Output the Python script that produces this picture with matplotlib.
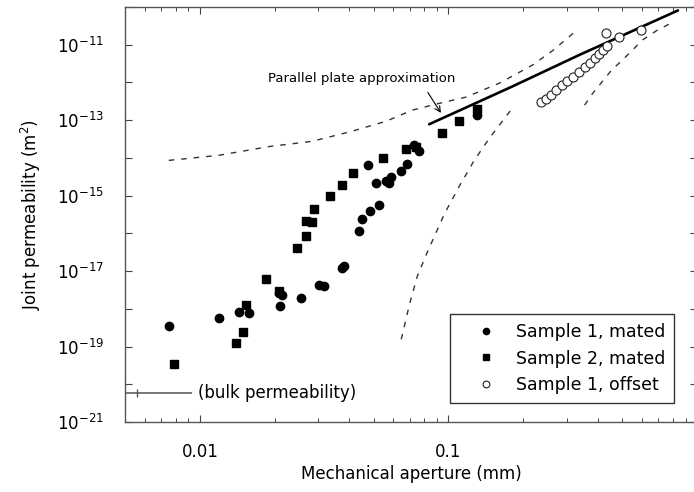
"""Joint permeability vs mechanical aperture, log-log scatter with model curves."""

import math

import matplotlib

matplotlib.use("Agg")
import matplotlib.pyplot as plt
from matplotlib.ticker import FixedLocator, FuncFormatter, NullLocator

# Sample 1, mated (filled circles)
s1_aperture = [0.0075, 0.0119, 0.0144, 0.0158, 0.021, 0.0208, 0.0214, 0.0255,
               0.0316, 0.0302, 0.0381, 0.0374, 0.0438, 0.045, 0.0485, 0.0527,
               0.0513, 0.0562, 0.0578, 0.0589, 0.0646, 0.0684, 0.0476, 0.0764,
               0.073, 0.13]
s1_perm = [3.4e-19, 5.6e-19, 8.1e-19, 7.6e-19, 1.17e-18, 2.6e-18, 2.3e-18, 1.9e-18,
           4.0e-18, 4.3e-18, 1.35e-17, 1.2e-17, 1.17e-16, 2.4e-16, 4.0e-16, 5.8e-16,
           2.2e-15, 2.5e-15, 2.1e-15, 3.2e-15, 4.4e-15, 7.1e-15, 6.3e-15, 1.5e-14,
           2.15e-14, 1.35e-13]

# Sample 2, mated (filled squares)
s2_aperture = [0.0079, 0.014, 0.0149, 0.0153, 0.01845, 0.0208, 0.0246, 0.0267,
               0.0267, 0.0283, 0.0288, 0.0334, 0.0374, 0.0414, 0.0547, 0.0677,
               0.0743, 0.0946, 0.11, 0.13]
s2_perm = [3.5e-20, 1.28e-19, 2.4e-19, 1.24e-18, 6.1e-18, 2.9e-18, 4.1e-17, 8.6e-17,
           2.15e-16, 2.0e-16, 4.5e-16, 1.0e-15, 1.96e-15, 3.9e-15, 9.7e-15, 1.7e-14,
           1.9e-14, 4.5e-14, 9.4e-14, 1.96e-13]

# Sample 1, offset (open circles)
s1o_aperture = [0.235, 0.246, 0.258, 0.272, 0.286, 0.299, 0.316, 0.334, 0.353,
                0.37, 0.388, 0.403, 0.418, 0.434, 0.43, 0.484, 0.594]
s1o_perm = [3.0e-13, 3.6e-13, 4.6e-13, 6.3e-13, 8.6e-13, 1.1e-12, 1.4e-12, 1.9e-12,
            2.6e-12, 3.3e-12, 4.5e-12, 5.8e-12, 7.4e-12, 9.4e-12, 2.1e-11, 1.6e-11,
            2.5e-11]

# parallel plate approximation (solid line)
pp_aperture = [0.0837, 0.179, 0.337, 0.838]
pp_perm = [7.8e-14, 7.6e-13, 5.4e-12, 8.1e-11]

# dashed model curves
c1_aperture = [0.0075, 0.0119, 0.019, 0.0283, 0.041, 0.0562, 0.0716, 0.092,
               0.118, 0.161, 0.218, 0.262, 0.328]
c1_perm = [8.6e-15, 1.17e-14, 2.0e-14, 2.75e-14, 5.1e-14, 9.4e-14, 1.85e-13,
           2.8e-13, 4.1e-13, 9.7e-13, 2.9e-12, 6.9e-12, 2.4e-11]
c2_aperture = [0.0646, 0.0697, 0.075, 0.0823, 0.0964, 0.111, 0.127, 0.146, 0.181]
c2_perm = [1.55e-19, 1.3e-18, 7.4e-18, 3.2e-17, 3.3e-16, 1.85e-15, 8.6e-15,
           3.3e-14, 2.1e-13]
c3_aperture = [0.353, 0.381, 0.418, 0.454, 0.503, 0.552, 0.606, 0.69, 0.778]
c3_perm = [2.5e-13, 5.2e-13, 1.1e-12, 2.15e-12, 4.0e-12, 7.4e-12, 1.36e-11,
           2.4e-11, 3.6e-11]

bulk_aperture = [0.005, 0.0092]
bulk_perm = [5.9e-21, 5.9e-21]

x_labels = {0.01: "0.01", 0.1: "0.1"}

plt.rcParams["font.family"] = "DejaVu Sans"

fig = plt.figure(figsize=(6.94, 4.92), dpi=100)
ax = fig.add_axes([125 / 694, 70 / 492, 572 / 694, 415 / 492])
ax.set_xscale("log")
ax.set_yscale("log")
ax.set_xlim(0.005, 1.0)
ax.set_ylim(1e-21, 1e-10)

dash = (0, (4, 5))
for xs, ys in [(c1_aperture, c1_perm), (c2_aperture, c2_perm), (c3_aperture, c3_perm)]:
    ax.plot(xs, ys, linestyle=dash, color="#333333", linewidth=1.0)

ax.plot(pp_aperture, pp_perm, color="black", linewidth=1.9, solid_capstyle="round")

ax.plot(s1_aperture, s1_perm, "o", color="black", markersize=6, label="Sample 1, mated")
ax.plot(s2_aperture, s2_perm, "s", color="black", markersize=5.5, label="Sample 2, mated")
ax.plot(s1o_aperture, s1o_perm, "o", markerfacecolor="white", markeredgecolor="#222222",
        markeredgewidth=0.8, markersize=6.5, label="Sample 1, offset")

# bulk permeability marker
ax.plot(bulk_aperture, bulk_perm, color="#777777", linewidth=1.4)
ax.plot([0.0056], [5.9e-21], marker="|", color="#555555", markersize=6)
ax.text(0.0098, 5.9e-21, "(bulk permeability)", fontsize=12, va="center", ha="left")

ax.annotate("", xy=(0.0946, 1.35e-13), xytext=(0.0815, 6.3e-13),
            arrowprops=dict(arrowstyle="->", color="black", lw=0.8))
ax.text(0.0446, 1.3e-12, "Parallel plate approximation", fontsize=9.5,
        ha="center", va="center")

ax.xaxis.set_major_locator(FixedLocator(list(x_labels)))
ax.xaxis.set_major_formatter(FuncFormatter(lambda v, p: x_labels.get(round(v, 4), "")))
ax.xaxis.set_minor_locator(FixedLocator([0.006, 0.007, 0.008, 0.009, 0.02, 0.03, 0.04,
                                         0.05, 0.06, 0.07, 0.08, 0.09, 0.2, 0.3, 0.4,
                                         0.5, 0.6, 0.7, 0.8, 0.9]))
ax.xaxis.set_minor_formatter(FuncFormatter(lambda v, p: ""))

decades = list(range(-21, -9))
ax.yaxis.set_major_locator(FixedLocator([10.0 ** e for e in decades]))
ax.yaxis.set_minor_locator(NullLocator())


def ylab(v, p):
    e = int(round(math.log10(v)))
    return f"$10^{{{e}}}$" if e % 2 != 0 and e <= -11 else ""


ax.yaxis.set_major_formatter(FuncFormatter(ylab))

ax.tick_params(which="both", direction="in", top=True, right=True, color="#444444")
ax.tick_params(which="major", length=5, width=0.8, labelsize=12)
ax.tick_params(which="minor", length=3, width=0.7)
ax.tick_params(axis="x", pad=15)
ax.tick_params(axis="y", pad=15)
for s in ax.spines.values():
    s.set_color("#555555")
    s.set_linewidth(1.0)

ax.set_xlabel("Mechanical aperture (mm)", fontsize=12, labelpad=3)
ax.set_ylabel("Joint permeability (m$^2$)", fontsize=12, labelpad=10)

leg = ax.legend(loc="lower left", bbox_to_anchor=(0.568, 0.046), fontsize=12.5,
                frameon=True, fancybox=False, edgecolor="black", markerscale=0.75,
                handlelength=3.2, handletextpad=0.1, borderpad=0.5, labelspacing=0.5,
                borderaxespad=0)
leg.get_frame().set_linewidth(1.0)

fig.savefig("out.png", dpi=100)
